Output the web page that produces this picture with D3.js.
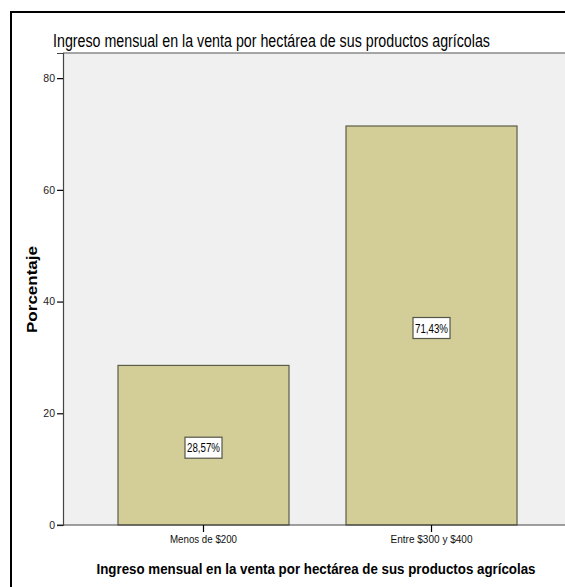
<!DOCTYPE html>
<html><head><meta charset="utf-8">
<script src="https://cdn.jsdelivr.net/npm/d3@7"></script>
<style>html,body{margin:0;padding:0;background:#fff;overflow:hidden}svg{display:block;overflow:hidden}text{font-family:"Liberation Sans",Arial,sans-serif}</style>
</head><body>
<svg id="c" width="565" height="587"></svg>
<script>
const categories = ["Menos de $200", "Entre $300 y $400"];
const values = [28.57, 71.43];
const valueLabels = ["28,57%", "71,43%"];
const yTicks = [0, 20, 40, 60, 80];
const titleText = "Ingreso mensual en la venta por hectárea de sus productos agrícolas";
const xTitle = "Ingreso mensual en la venta por hectárea de sus productos agrícolas";
const yTitle = "Porcentaje";

const svg = d3.select("#c");
const W = 565, H = 587;
const plotL = 63, plotT = 53, plotB = 525;

svg.append("line").attr("x1", 11).attr("x2", W).attr("y1", 12).attr("y2", 12)
  .attr("stroke", "#000").attr("stroke-width", 2);
svg.append("line").attr("x1", 11).attr("x2", 11).attr("y1", 11).attr("y2", H)
  .attr("stroke", "#000").attr("stroke-width", 2);

const y = d3.scaleLinear().domain([0, 84.5]).range([plotB, plotT]);
const x = d3.scaleBand().domain(categories)
  .range([plotL, plotL + 228 * 2.2325]).paddingInner(0.25).paddingOuter(0.2412);

svg.append("rect").attr("x", plotL).attr("y", plotT).attr("width", W - plotL).attr("height", plotB - plotT)
  .attr("fill", "#f0f0f0");
svg.append("line").attr("x1", plotL).attr("x2", W).attr("y1", plotT).attr("y2", plotT)
  .attr("stroke", "#8a8a8a").attr("stroke-width", 1.5);

svg.append("text").attr("x", 53).attr("y", 47).attr("font-size", 17.5)
  .attr("textLength", 437).attr("lengthAdjust", "spacingAndGlyphs")
  .attr("fill", "#000").text(titleText);

svg.selectAll("rect.bar").data(values).enter().append("rect").attr("class", "bar")
  .attr("x", (d, i) => x(categories[i]))
  .attr("y", d => y(d))
  .attr("width", x.bandwidth())
  .attr("height", d => y(0) - y(d))
  .attr("fill", "#d3ce98").attr("stroke", "#5c5c48").attr("stroke-width", 1.2);

const lab = svg.selectAll("g.lab").data(values).enter().append("g").attr("class", "lab")
  .attr("transform", (d, i) => `translate(${x(categories[i]) + x.bandwidth() / 2},${(y(d) + y(0)) / 2 + 2})`);
lab.append("rect").attr("x", -18.5).attr("y", -10).attr("width", 37).attr("height", 21)
  .attr("fill", "#fff").attr("stroke", "#555548").attr("stroke-width", 1.2);
lab.append("text").attr("text-anchor", "middle").attr("y", 5).attr("font-size", 12)
  .attr("textLength", 33).attr("lengthAdjust", "spacingAndGlyphs")
  .attr("fill", "#000").text((d, i) => valueLabels[i]);

const yAxis = svg.append("g").attr("transform", `translate(${plotL},0)`)
  .call(d3.axisLeft(y).tickValues(yTicks).tickSize(6).tickPadding(2));
yAxis.select(".domain").attr("stroke", "#444").attr("stroke-width", 1.2);
yAxis.selectAll(".tick line").attr("stroke", "#000").attr("stroke-width", 1.2);
yAxis.selectAll(".tick text").attr("font-size", 10.5).attr("fill", "#222")
  .attr("font-family", "Liberation Sans, Arial, sans-serif");

const xAxis = svg.append("g").attr("transform", `translate(0,${plotB})`)
  .call(d3.axisBottom(x).tickSize(7).tickPadding(4).tickSizeOuter(0));
xAxis.select(".domain").attr("stroke", "#444").attr("stroke-width", 1.2)
  .attr("d", `M${plotL - 6},0H${W}`);
xAxis.selectAll(".tick line").attr("stroke", "#000").attr("stroke-width", 1.2);
xAxis.selectAll(".tick text").attr("font-size", 10.5).attr("fill", "#111")
  .attr("font-family", "Liberation Sans, Arial, sans-serif")
  .attr("textLength", (d, i) => i === 0 ? 67 : 82).attr("lengthAdjust", "spacingAndGlyphs");

svg.append("text").attr("x", 316).attr("y", 574).attr("text-anchor", "middle")
  .attr("font-size", 15).attr("font-weight", "bold")
  .attr("textLength", 439).attr("lengthAdjust", "spacingAndGlyphs")
  .attr("fill", "#000").text(xTitle);

svg.append("text").attr("transform", `translate(37,289.5) rotate(-90)`)
  .attr("text-anchor", "middle").attr("font-size", 14).attr("font-weight", "bold")
  .attr("textLength", 87).attr("lengthAdjust", "spacingAndGlyphs")
  .attr("fill", "#000").text(yTitle);
</script>
</body></html>
